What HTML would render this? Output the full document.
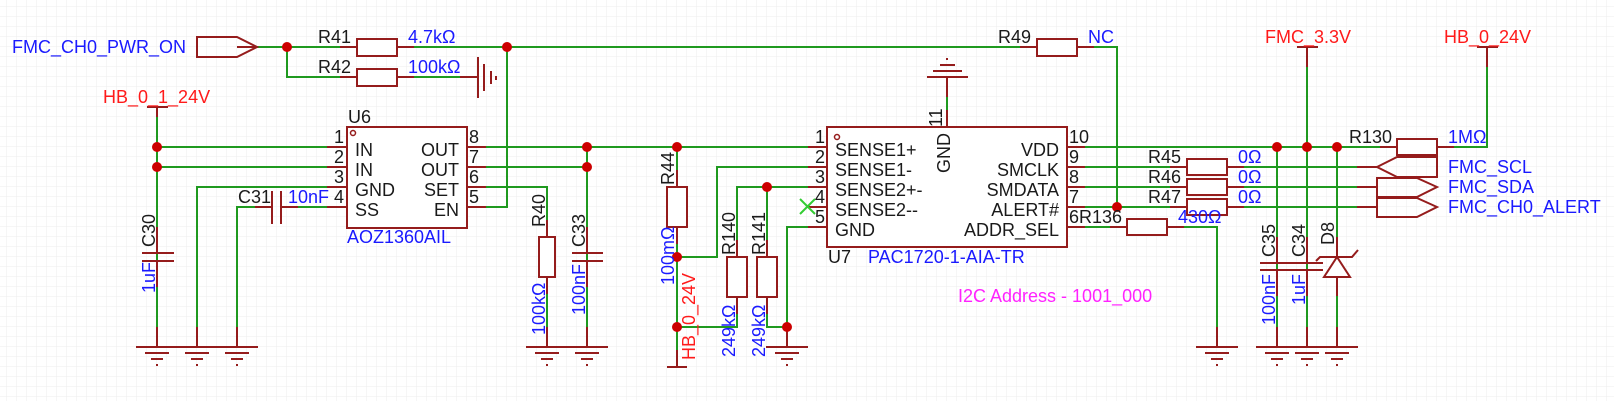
<!DOCTYPE html>
<html><head><meta charset="utf-8"><style>
html,body{margin:0;padding:0;background:#fff}
svg{display:block}
text{font-family:"Liberation Sans",Arial,sans-serif;font-size:18px}
.b{fill:#1a1aff}.r{fill:#ff1a1a}.k{fill:#1a1a1a}.m{fill:#ff22ff}
.w{stroke:#1f9a1f;stroke-width:2;fill:none}
.p{stroke:#951c1c;stroke-width:2;fill:none}
.pf{stroke:#951c1c;stroke-width:2;fill:#fff}
.d{fill:#cc0000}
</style></head><body>
<svg width="1614" height="401" viewBox="0 0 1614 401" xmlns="http://www.w3.org/2000/svg">
<defs>
<pattern id="g" x="7" y="7" width="10" height="10" patternUnits="userSpaceOnUse">
<path d="M10 0V10M0 10H10" stroke="#eeeeee" stroke-width="1" fill="none"/>
</pattern>
<g id="gnd"><path class="p" d="M0 -20V0M-21 0H21M-12 6H12M-6 12H6M-1 18H1"/></g>
</defs>
<rect width="1614" height="401" fill="url(#g)"/>

<g class="w">
<path d="M257 47H357M397 47H1037"/>
<path d="M287 47V77H357M397 77H478"/>
<path d="M507 47V207H486"/>
<path d="M157 107V327"/>
<path d="M157 147H327M157 167H327"/>
<path d="M327 187H197V327"/>
<path d="M327 207H281M272 207H237V327"/>
<path d="M486 147H808M486 167H587V327"/>
<path d="M587 147V327"/>
<path d="M486 187H547V237M547 277V327"/>
<path d="M677 147V187M677 227V367"/>
<path d="M677 257H717V167H808"/>
<path d="M677 327H737V297M737 257V187H808"/>
<path d="M767 187V257M767 297V327H787V227H808M787 327V347"/>
<path d="M947 77V127"/>
<path d="M1077 47H1117V207"/>
<path d="M1067 147H1397M1437 147H1487V47"/>
<path d="M1307 47V327"/>
<path d="M1277 147V327M1337 147V327"/>
<path d="M1067 167H1187M1227 167H1377"/>
<path d="M1067 187H1187M1227 187H1377"/>
<path d="M1067 207H1187M1227 207H1377"/>
<path d="M1067 227H1127M1167 227H1217V327"/>
</g>

<g class="p">
<path d="M237 47H257M340 47H357M397 47H414M340 77H357M397 77H414M460 77H478"/>
<path d="M327 147H347M327 167H347M327 187H347M327 207H347"/>
<path d="M467 147H486M467 167H486M467 187H486M467 207H486"/>
<path d="M808 147H827M808 167H827M808 187H827M808 207H827M808 227H827"/>
<path d="M1067 147H1085M1067 167H1085M1067 187H1085M1067 207H1085M1067 227H1085"/>
<path d="M1020 47H1037M1077 47H1094M1380 147H1397M1437 147H1454"/>
<path d="M1170 167H1187M1227 167H1244M1170 187H1187M1227 187H1244M1170 207H1187M1227 207H1244M1110 227H1127M1167 227H1184"/>
<path d="M1357 167H1377M1357 187H1377M1357 207H1377"/>
<path d="M157 107V117M157 227V253M157 261V287"/>
<path d="M587 227V253M587 261V287"/>
<path d="M547 220V237M547 277V294M677 170V187M677 227V244M737 240V257M737 297V314M767 240V257M767 297V314"/>
<path d="M1277 237V263M1277 270V296M1307 237V263M1307 270V296M1337 237V257M1337 277V296"/>
<path d="M1307 47V67M1487 47V67M947 77V97M947 110V127M677 350V367"/>
<path d="M255 207H272M281 207H298"/>
</g>

<use href="#gnd" x="157" y="347"/><use href="#gnd" x="197" y="347"/><use href="#gnd" x="237" y="347"/>
<use href="#gnd" x="547" y="347"/><use href="#gnd" x="587" y="347"/>
<use href="#gnd" x="787" y="347"/><use href="#gnd" x="1217" y="347"/>
<use href="#gnd" x="1277" y="347"/><use href="#gnd" x="1307" y="347"/><use href="#gnd" x="1337" y="347"/>
<path class="p" d="M927 77H968M933 71H962M940 65H955M946 59H948"/>
<path class="p" d="M478 57V98M484 64V91M491 71V84M496 76V80"/>

<path class="p" d="M147 107H168M1297 47H1318M1477 47H1498M667 367H687"/>

<g class="pf">
<rect x="357" y="39" width="40" height="17"/>
<rect x="357" y="69" width="40" height="17"/>
<rect x="539" y="237" width="16" height="40"/>
<rect x="667" y="187" width="20" height="40"/>
<rect x="727" y="257" width="20" height="40"/>
<rect x="757" y="257" width="20" height="40"/>
<rect x="1037" y="39" width="40" height="17"/>
<rect x="1397" y="139" width="40" height="16"/>
<rect x="1187" y="159" width="40" height="16"/>
<rect x="1187" y="179" width="40" height="16"/>
<rect x="1187" y="199" width="40" height="16"/>
<rect x="1127" y="219" width="40" height="16"/>
</g>

<g class="p">
<path d="M142 253H174M142 261H174"/>
<path d="M572 253H603M572 261H603"/>
<path d="M272 191V224M281 191V224"/>
<path d="M1260 263H1293M1260 270H1293"/>
<path d="M1291 263H1323M1291 270H1323"/>
<path d="M1324 277H1350L1337 257Z" fill="#fff"/>
<path d="M1316 261L1320 257H1352L1358 250"/>
</g>

<g class="p">
<path d="M197 37H237L257 47L237 57H197Z"/>
<path d="M1377 167L1397 157H1437V177H1397Z"/>
<path d="M1377 178H1417L1437 187L1417 197H1377Z"/>
<path d="M1377 198H1417L1437 207L1417 217H1377Z"/>
</g>

<rect class="pf" x="347" y="127" width="120" height="101"/>
<circle cx="353" cy="133" r="2.5" fill="none" stroke="#951c1c" stroke-width="1.5"/>
<rect class="pf" x="827" y="127" width="240" height="120"/>
<circle cx="837" cy="137" r="2.5" fill="none" stroke="#951c1c" stroke-width="1.5"/>
<path d="M800 199L815 214M800 214L815 199" stroke="#33cc33" stroke-width="2"/>

<g class="d">
<circle cx="287" cy="47" r="5"/><circle cx="507" cy="47" r="5"/>
<circle cx="157" cy="147" r="5"/><circle cx="157" cy="167" r="5"/>
<circle cx="587" cy="147" r="5"/><circle cx="587" cy="167" r="5"/>
<circle cx="677" cy="147" r="5"/><circle cx="677" cy="257" r="5"/><circle cx="677" cy="327" r="5"/>
<circle cx="767" cy="187" r="5"/><circle cx="787" cy="327" r="5"/>
<circle cx="1117" cy="207" r="5"/>
<circle cx="1277" cy="147" r="5"/><circle cx="1307" cy="147" r="5"/><circle cx="1337" cy="147" r="5"/>
</g>

<text class="b" x="12" y="53">FMC_CH0_PWR_ON</text>
<text class="k" x="318" y="43">R41</text><text class="b" x="408" y="43">4.7kΩ</text>
<text class="k" x="318" y="73">R42</text><text class="b" x="408" y="73">100kΩ</text>
<text class="r" x="103" y="103">HB_0_1_24V</text>
<text class="k" x="348" y="123">U6</text>
<text class="b" x="347" y="243">AOZ1360AIL</text>
<text class="k" x="334" y="143">1</text><text class="k" x="334" y="163">2</text><text class="k" x="334" y="183">3</text><text class="k" x="334" y="203">4</text>
<text class="k" x="355" y="156">IN</text><text class="k" x="355" y="176">IN</text><text class="k" x="355" y="196">GND</text><text class="k" x="355" y="216">SS</text>
<g text-anchor="end"><text class="k" x="459" y="156">OUT</text><text class="k" x="459" y="176">OUT</text><text class="k" x="459" y="196">SET</text><text class="k" x="459" y="216">EN</text></g>
<text class="k" x="469" y="143">8</text><text class="k" x="469" y="163">7</text><text class="k" x="469" y="183">6</text><text class="k" x="469" y="203">5</text>
<text class="k" x="238" y="203">C31</text><text class="b" x="288" y="203">10nF</text>

<text class="k" x="998" y="43">R49</text><text class="b" x="1088" y="43">NC</text>
<text class="k" x="815" y="143">1</text><text class="k" x="815" y="163">2</text><text class="k" x="815" y="183">3</text><text class="k" x="815" y="203">4</text><text class="k" x="815" y="223">5</text>
<text class="k" x="835" y="156">SENSE1+</text><text class="k" x="835" y="176">SENSE1-</text><text class="k" x="835" y="196">SENSE2+-</text><text class="k" x="835" y="216">SENSE2--</text><text class="k" x="835" y="236">GND</text>
<g text-anchor="end"><text class="k" x="1059" y="156">VDD</text><text class="k" x="1059" y="176">SMCLK</text><text class="k" x="1059" y="196">SMDATA</text><text class="k" x="1059" y="216">ALERT#</text><text class="k" x="1059" y="236">ADDR_SEL</text></g>
<text class="k" x="1069" y="143">10</text><text class="k" x="1069" y="163">9</text><text class="k" x="1069" y="183">8</text><text class="k" x="1069" y="203">7</text><text class="k" x="1069" y="223">6</text>
<text class="k" x="828" y="263">U7</text><text class="b" x="868" y="263">PAC1720-1-AIA-TR</text>
<text class="m" x="958" y="302">I2C Address - 1001_000</text>

<text class="k" x="1079" y="223">R136</text><text class="b" x="1178" y="223">430Ω</text>
<text class="k" x="1148" y="163">R45</text><text class="b" x="1238" y="163">0Ω</text>
<text class="k" x="1148" y="183">R46</text><text class="b" x="1238" y="183">0Ω</text>
<text class="k" x="1148" y="203">R47</text><text class="b" x="1238" y="203">0Ω</text>
<text class="k" x="1349" y="143">R130</text><text class="b" x="1448" y="143">1MΩ</text>
<text class="r" x="1265" y="43">FMC_3.3V</text><text class="r" x="1444" y="43">HB_0_24V</text>
<text class="b" x="1448" y="173">FMC_SCL</text>
<text class="b" x="1448" y="193">FMC_SDA</text>
<text class="b" x="1448" y="213">FMC_CH0_ALERT</text>

<g>
<text class="k" transform="translate(155,247) rotate(-90)">C30</text>
<text class="b" transform="translate(155,293) rotate(-90)">1uF</text>
<text class="k" transform="translate(545,227) rotate(-90)">R40</text>
<text class="b" transform="translate(545,335) rotate(-90)">100kΩ</text>
<text class="k" transform="translate(585,247) rotate(-90)">C33</text>
<text class="b" transform="translate(585,315) rotate(-90)">100nF</text>
<text class="k" transform="translate(674,185) rotate(-90)">R44</text>
<text class="b" transform="translate(674,285) rotate(-90)">100mΩ</text>
<text class="r" transform="translate(695,360) rotate(-90)">HB_0_24V</text>
<text class="k" transform="translate(735,255) rotate(-90)">R140</text>
<text class="b" transform="translate(735,357) rotate(-90)">249kΩ</text>
<text class="k" transform="translate(765,255) rotate(-90)">R141</text>
<text class="b" transform="translate(765,357) rotate(-90)">249kΩ</text>
<text class="k" transform="translate(950,173) rotate(-90)">GND</text>
<text class="k" transform="translate(942,127) rotate(-90)">11</text>
<text class="k" transform="translate(1275,257) rotate(-90)">C35</text>
<text class="b" transform="translate(1275,325) rotate(-90)">100nF</text>
<text class="k" transform="translate(1305,257) rotate(-90)">C34</text>
<text class="b" transform="translate(1305,305) rotate(-90)">1uF</text>
<text class="k" transform="translate(1334,245) rotate(-90)">D8</text>
</g>
</svg>
</body></html>
